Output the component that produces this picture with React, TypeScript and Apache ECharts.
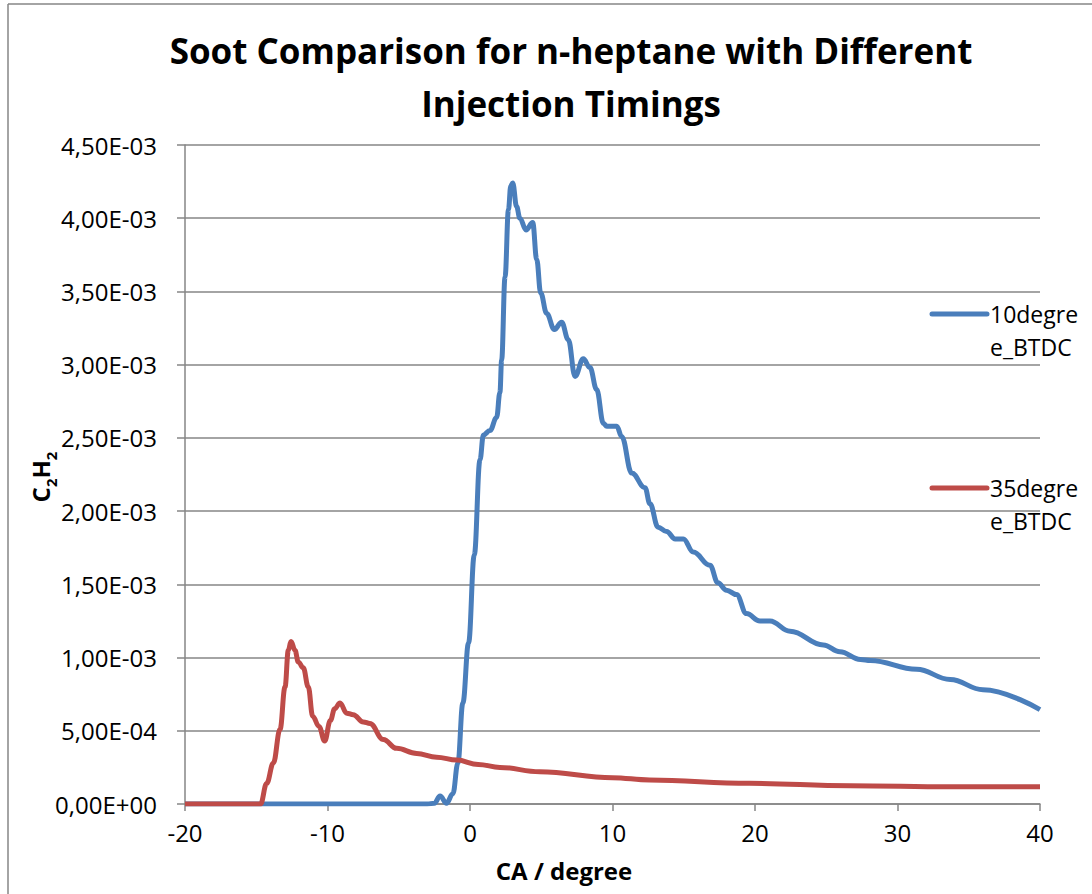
import React, { useEffect, useRef } from "react";
import * as echarts from "echarts";

const xTicks = [-20, -10, 0, 10, 20, 30, 40];
const yTicks = [0, 5e-4, 1e-3, 1.5e-3, 2e-3, 2.5e-3, 3e-3, 3.5e-3, 4e-3, 4.5e-3];

const blueName = "10degree_BTDC";
const blueX = [-20, -3, -2.5, -2.1, -1.65, -1.2, -0.85, -0.5, -0.1, 0.3, 0.7, 0.94, 1.4, 1.87, 2.1, 2.22, 2.46, 2.7, 2.86, 3.0, 3.27, 3.5, 3.93, 4.4, 4.68, 4.96, 5.38, 5.92, 6.43, 6.9, 7.37, 7.95, 8.42, 8.89, 9.36, 9.6, 10.3, 10.64, 11.35, 12.28, 12.63, 13.2, 13.8, 14.4, 14.97, 15.67, 16.84, 17.4, 18.0, 18.7, 19.4, 20.35, 21.05, 22.46, 24.8, 25.96, 27.4, 28.1, 31.35, 33.7, 36.0, 40];
const blueY = [0, 0, 0.005e-3, 0.055e-3, 0.005e-3, 0.07e-3, 0.28e-3, 0.69e-3, 1.1e-3, 1.7e-3, 2.35e-3, 2.52e-3, 2.55e-3, 2.64e-3, 2.81e-3, 3.03e-3, 3.6e-3, 4.06e-3, 4.22e-3, 4.24e-3, 4.08e-3, 4.0e-3, 3.92e-3, 3.97e-3, 3.72e-3, 3.49e-3, 3.35e-3, 3.24e-3, 3.29e-3, 3.17e-3, 2.92e-3, 3.04e-3, 2.98e-3, 2.83e-3, 2.6e-3, 2.58e-3, 2.58e-3, 2.51e-3, 2.26e-3, 2.16e-3, 2.05e-3, 1.89e-3, 1.86e-3, 1.81e-3, 1.81e-3, 1.72e-3, 1.63e-3, 1.51e-3, 1.46e-3, 1.43e-3, 1.3e-3, 1.25e-3, 1.25e-3, 1.18e-3, 1.086e-3, 1.04e-3, 0.987e-3, 0.98e-3, 0.92e-3, 0.85e-3, 0.78e-3, 0.645e-3];

const redName = "35degree_BTDC";
const redX = [-20, -14.7, -14.27, -13.8, -13.33, -12.98, -12.75, -12.56, -12.28, -12.05, -11.7, -11.35, -11.04, -10.6, -10.2, -9.8, -9.5, -9.12, -8.65, -8.19, -7.49, -7.02, -6.08, -5.15, -3.74, -2.34, -0.93, 0.58, 2.1, 4.9, 10, 12.6, 19.6, 26.7, 33.7, 40];
const redY = [0, 0, 0.14e-3, 0.28e-3, 0.51e-3, 0.8e-3, 1.05e-3, 1.11e-3, 1.05e-3, 0.97e-3, 0.93e-3, 0.8e-3, 0.6e-3, 0.53e-3, 0.43e-3, 0.57e-3, 0.65e-3, 0.69e-3, 0.62e-3, 0.61e-3, 0.56e-3, 0.55e-3, 0.44e-3, 0.38e-3, 0.345e-3, 0.32e-3, 0.3e-3, 0.27e-3, 0.25e-3, 0.22e-3, 0.18e-3, 0.164e-3, 0.141e-3, 0.125e-3, 0.118e-3, 0.118e-3];

const BLUE = "#4A7EBB";
const RED = "#BE4B48";
const GRAY = "#868686";
const FONT = "Open Sans";

function fmtY(v: number): string {
  if (v === 0) return "0,00E+00";
  const s = v.toExponential(2);
  const [m, e] = s.split("e");
  const exp = parseInt(e, 10);
  const sign = exp < 0 ? "-" : "+";
  const ab = Math.abs(exp).toString().padStart(2, "0");
  return m.replace(".", ",") + "E" + sign + ab;
}

export default function App() {
  const ref = useRef<HTMLDivElement>(null);
  useEffect(() => {
    if (!ref.current) return;
    const chart = echarts.init(ref.current, undefined, { renderer: "svg" });
    const blueData = blueX.map((x, i) => [x, blueY[i]]);
    const redData = redX.map((x, i) => [x, redY[i]]);
    chart.setOption({
      animation: false,
      backgroundColor: "#ffffff",
      title: {
        text: "Soot Comparison for n-heptane with Different\nInjection Timings",
        left: 566,
        top: 19,
        textAlign: "center",
        textStyle: {
          fontFamily: FONT,
          fontWeight: "bold",
          fontSize: 35,
          lineHeight: 53,
          color: "#000",
        },
      },
      grid: { left: 185, right: 52, top: 145, bottom: 90, containLabel: false },
      xAxis: {
        type: "value",
        min: -20,
        max: 40,
        interval: 10,
        axisLine: { show: true, onZero: false, lineStyle: { color: GRAY, width: 1.5 } },
        axisTick: { show: true, length: 7, lineStyle: { color: GRAY, width: 1.5 } },
        splitLine: { show: false },
        axisLabel: {
          margin: 16,
          fontFamily: FONT,
          fontSize: 24,
          color: "#000",
          formatter: (v: number) => (xTicks.includes(v) ? String(v) : ""),
        },
      },
      yAxis: {
        type: "value",
        min: 0,
        max: 4.5e-3,
        interval: 5e-4,
        axisLine: { show: true, onZero: false, lineStyle: { color: GRAY, width: 1.5 } },
        axisTick: { show: true, length: 8, lineStyle: { color: GRAY, width: 1.5 } },
        splitLine: { show: true, lineStyle: { color: GRAY, width: 1.5 } },
        axisLabel: {
          margin: 28,
          fontFamily: FONT,
          fontSize: 24,
          color: "#000",
          formatter: (v: number) => {
            const t = yTicks.find((y) => Math.abs(y - v) < 1e-9);
            return t === undefined ? "" : fmtY(t);
          },
        },
      },
      series: [
        {
          name: blueName,
          type: "line",
          data: blueData,
          smooth: 0.4,
          smoothMonotone: "x",
          showSymbol: false,
          symbol: "none",
          lineStyle: { color: BLUE, width: 5 },
          itemStyle: { color: BLUE },
          z: 2,
        },
        {
          name: redName,
          type: "line",
          data: redData,
          smooth: 0.4,
          smoothMonotone: "x",
          showSymbol: false,
          symbol: "none",
          lineStyle: { color: RED, width: 5 },
          itemStyle: { color: RED },
          z: 3,
        },
      ],
      graphic: [
        { type: "line", shape: { x1: 8, y1: 4, x2: 8, y2: 894 }, style: { stroke: GRAY, lineWidth: 1.5 } },
        { type: "line", shape: { x1: 8, y1: 4, x2: 1092, y2: 4 }, style: { stroke: GRAY, lineWidth: 1.5 } },
        { type: "line", shape: { x1: 932, y1: 314, x2: 987, y2: 314 }, style: { stroke: BLUE, lineWidth: 5, lineCap: "round" } },
        {
          type: "text",
          x: 990,
          y: 297,
          style: { text: "10degre\ne_BTDC", fontFamily: FONT, fontSize: 23, lineHeight: 33, fill: "#000" },
        },
        { type: "line", shape: { x1: 932, y1: 488, x2: 987, y2: 488 }, style: { stroke: RED, lineWidth: 5, lineCap: "round" } },
        {
          type: "text",
          x: 990,
          y: 471,
          style: { text: "35degre\ne_BTDC", fontFamily: FONT, fontSize: 23, lineHeight: 33, fill: "#000" },
        },
        {
          type: "text",
          x: 564,
          y: 870,
          style: { text: "CA / degree", fontFamily: FONT, fontSize: 24, fontWeight: "bold", fill: "#000", align: "center", verticalAlign: "middle" },
        },
        {
          type: "text",
          x: 40,
          y: 477,
          rotation: Math.PI / 2,
          style: {
            text: "{b|C}{s|2}{b|H}{s|2}",
            align: "center",
            verticalAlign: "middle",
            rich: {
              b: { fontFamily: FONT, fontSize: 24, fontWeight: "bold", fill: "#000", verticalAlign: "bottom" },
              s: { fontFamily: FONT, fontSize: 15, fontWeight: "bold", fill: "#000", verticalAlign: "bottom", padding: [0, 0, -6, 0] },
            },
          },
        },
      ],
    });
    return () => chart.dispose();
  }, []);
  return (
    <div
      ref={ref}
      style={{ position: "fixed", left: 0, top: 0, width: 1092, height: 894 }}
    />
  );
}
